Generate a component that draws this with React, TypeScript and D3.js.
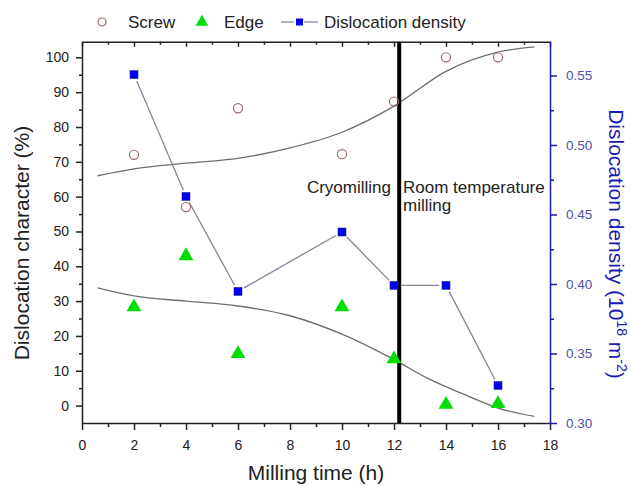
import React, { useEffect, useRef } from 'react';
import * as d3 from 'd3';

// milling time (h)
const times = [2, 4, 6, 10, 12, 14, 16];
// dislocation character (%)
const screw = [72, 57, 85.4, 72.2, 87.3, 100, 100];
const edge = [28.3, 43, 14.9, 28.3, 13.4, 0.3, 0.5];
// dislocation density (1e18 m^-2)
const density = [0.5506, 0.463, 0.3947, 0.4374, 0.399, 0.399, 0.327];

// fitted trend curves
const screwFit: [number, number][] = [
  [0.6, 66], [2, 68], [4, 69.6], [6, 71], [8, 74], [10, 78.5],
  [12, 86], [14, 96], [16, 101.5], [17.4, 103],
];
const edgeFit: [number, number][] = [
  [0.6, 33.8], [2, 31.5], [4, 30], [6, 28.6], [8, 25.8], [10, 20.5],
  [12, 13.2], [13.3, 7.8], [14.7, 3.2], [16, -0.7], [17.4, -3.1],
];

const xTicks = d3.range(0, 19, 2);
const xMinor = d3.range(1, 18, 2);
const leftTicks = d3.range(0, 101, 10);
const leftMinor = d3.range(5, 100, 10);
const rightTicks = [0.3, 0.35, 0.4, 0.45, 0.5, 0.55];
const rightMinor = [0.325, 0.375, 0.425, 0.475, 0.525];
const splitTime = 12.2;

const FONT = '"Liberation Sans", Arial, sans-serif';
const BLUE = '#1a1ab4';

const App = () => {
  const svgRef = useRef<SVGSVGElement>(null);

  useEffect(() => {
    const svg = d3.select(svgRef.current);
    svg.selectAll('*').remove();

    const left = 82, right = 550, top = 41.7, bottom = 423;

    const x = d3.scaleLinear().domain([0, 18]).range([left, right]);
    const yL = d3.scaleLinear().domain([-5, 104.5]).range([bottom, top]);
    const yR = d3.scaleLinear().domain([0.3, 0.5743]).range([bottom, top]);

    const g = svg.append('g').style('font-family', FONT);

    // top axis (inward ticks, no labels)
    const tx = g.append('g')
      .attr('transform', `translate(0,${top})`)
      .call(d3.axisBottom(x).tickValues(xTicks).tickSize(5).tickSizeOuter(0).tickFormat(() => ''));
    tx.append('g').call(d3.axisBottom(x).tickValues(xMinor).tickSize(3).tickFormat(() => '')).select('.domain').remove();

    // bottom axis
    const bx = g.append('g')
      .attr('transform', `translate(0,${bottom})`)
      .call(d3.axisBottom(x).tickValues(xTicks).tickSize(7).tickPadding(10).tickSizeOuter(0).tickFormat(d3.format('d')));
    bx.append('g').call(d3.axisBottom(x).tickValues(xMinor).tickSize(4).tickFormat(() => '')).select('.domain').remove();

    // left axis
    const ly = g.append('g')
      .attr('transform', `translate(${left},0)`)
      .call(d3.axisLeft(yL).tickValues(leftTicks).tickSize(6).tickPadding(7).tickSizeOuter(0).tickFormat(d3.format('d')));
    ly.append('g').call(d3.axisLeft(yL).tickValues(leftMinor).tickSize(3).tickFormat(() => '')).select('.domain').remove();

    // right axis (blue)
    const ry = g.append('g')
      .attr('transform', `translate(${right},0)`)
      .call(d3.axisRight(yR).tickValues(rightTicks).tickSize(7).tickPadding(9).tickSizeOuter(0).tickFormat(d3.format('.2f')));
    ry.append('g').call(d3.axisRight(yR).tickValues(rightMinor).tickSize(4).tickFormat(() => '')).select('.domain').remove();

    [tx, bx, ly].forEach(a => {
      a.selectAll('.domain, line').attr('stroke', '#222').attr('stroke-width', 1.5);
      a.selectAll('text').attr('fill', '#222').style('font-size', '14px').style('font-family', FONT);
    });
    ry.selectAll('.domain, line').attr('stroke', BLUE).attr('stroke-width', 1.5);
    ry.selectAll('text').attr('fill', '#5050a8').style('font-size', '13.5px').style('font-family', FONT);

    // trend curves
    const fitLine = d3.line<[number, number]>()
      .x(d => x(d[0]))
      .y(d => yL(d[1]))
      .curve(d3.curveMonotoneX);
    [screwFit, edgeFit].forEach(pts => {
      g.append('path')
        .attr('d', fitLine(pts))
        .attr('fill', 'none')
        .attr('stroke', '#6e6e6e')
        .attr('stroke-width', 1.3);
    });

    // separator between cryomilling and room temperature milling
    g.append('line')
      .attr('x1', x(splitTime)).attr('x2', x(splitTime))
      .attr('y1', top).attr('y2', bottom)
      .attr('stroke', '#000').attr('stroke-width', 4);

    // density line, with gaps around the markers
    const gap = 7;
    density.forEach((d, i) => {
      if (i === 0) return;
      const x0 = x(times[i - 1]), y0 = yR(density[i - 1]);
      const x1 = x(times[i]), y1 = yR(d);
      const len = Math.hypot(x1 - x0, y1 - y0);
      const ux = (x1 - x0) / len, uy = (y1 - y0) / len;
      g.append('line')
        .attr('x1', x0 + ux * gap).attr('y1', y0 + uy * gap)
        .attr('x2', x1 - ux * gap).attr('y2', y1 - uy * gap)
        .attr('stroke', '#85859a').attr('stroke-width', 1.3);
    });

    // screw markers
    g.selectAll('circle.screw')
      .data(screw)
      .join('circle')
      .attr('class', 'screw')
      .attr('cx', (_, i) => x(times[i]))
      .attr('cy', d => yL(d))
      .attr('r', 4.6)
      .attr('fill', 'none')
      .attr('stroke', '#a06a6a')
      .attr('stroke-width', 1.2);

    // edge markers
    const tri = d3.symbol().type(d3.symbolTriangle).size(95);
    g.selectAll('path.edge')
      .data(edge)
      .join('path')
      .attr('class', 'edge')
      .attr('d', tri)
      .attr('transform', (d, i) => `translate(${x(times[i])},${yL(d)})`)
      .attr('fill', '#00dd00');

    // density markers
    g.selectAll('rect.dens')
      .data(density)
      .join('rect')
      .attr('class', 'dens')
      .attr('x', (_, i) => x(times[i]) - 4)
      .attr('y', d => yR(d) - 4)
      .attr('width', 8)
      .attr('height', 8)
      .attr('fill', '#0000ee')
      .attr('stroke', '#2a2a8a')
      .attr('stroke-width', 0.6);

    // annotations
    g.append('text')
      .attr('x', 391).attr('y', 193)
      .attr('text-anchor', 'end')
      .style('font-size', '17px')
      .attr('fill', '#222')
      .text('Cryomilling');
    g.append('text')
      .attr('x', 403).attr('y', 193)
      .style('font-size', '17px')
      .attr('fill', '#222')
      .text('Room temperature');
    g.append('text')
      .attr('x', 403).attr('y', 211)
      .style('font-size', '17px')
      .attr('fill', '#222')
      .text('milling');

    // axis titles
    g.append('text')
      .attr('x', 316).attr('y', 480)
      .attr('text-anchor', 'middle')
      .style('font-size', '21px')
      .attr('fill', '#222')
      .text('Milling time (h)');
    g.append('text')
      .attr('transform', 'translate(29,243) rotate(-90)')
      .attr('text-anchor', 'middle')
      .style('font-size', '21px')
      .attr('fill', '#222')
      .text('Dislocation character (%)');

    const rt = g.append('text')
      .attr('transform', 'translate(609,244) rotate(90)')
      .attr('text-anchor', 'middle')
      .style('font-size', '21px')
      .attr('fill', BLUE);
    rt.append('tspan').text('Dislocation density (10');
    rt.append('tspan').attr('dy', -8).style('font-size', '14px').text('18');
    rt.append('tspan').attr('dy', 8).text(' m');
    rt.append('tspan').attr('dy', -8).style('font-size', '14px').text('-2');
    rt.append('tspan').attr('dy', 8).text(')');

    // legend
    const lg = g.append('g').attr('transform', 'translate(0,22)');
    lg.append('circle').attr('cx', 102).attr('cy', 0).attr('r', 4).attr('fill', 'none').attr('stroke', '#a06a6a').attr('stroke-width', 1.2);
    lg.append('text').attr('x', 128).attr('y', 6).style('font-size', '17px').attr('fill', '#222').text('Screw');
    lg.append('path').attr('d', d3.symbol().type(d3.symbolTriangle).size(70)()).attr('transform', 'translate(202,0)').attr('fill', '#00dd00');
    lg.append('text').attr('x', 224).attr('y', 6).style('font-size', '17px').attr('fill', '#222').text('Edge');
    lg.append('line').attr('x1', 281).attr('x2', 294).attr('y1', 0).attr('y2', 0).attr('stroke', '#85859a').attr('stroke-width', 1.3);
    lg.append('line').attr('x1', 304).attr('x2', 318).attr('y1', 0).attr('y2', 0).attr('stroke', '#85859a').attr('stroke-width', 1.3);
    lg.append('rect').attr('x', 296).attr('y', -3.5).attr('width', 7).attr('height', 7).attr('fill', '#0000ee');
    lg.append('text').attr('x', 324).attr('y', 6).style('font-size', '17px').attr('fill', '#222').text('Dislocation density');
  }, []);

  return (
    <svg
      ref={svgRef}
      width={631}
      height={486}
      style={{ position: 'absolute', left: 0, top: 0, background: '#fff' }}
    />
  );
};

export default App;
